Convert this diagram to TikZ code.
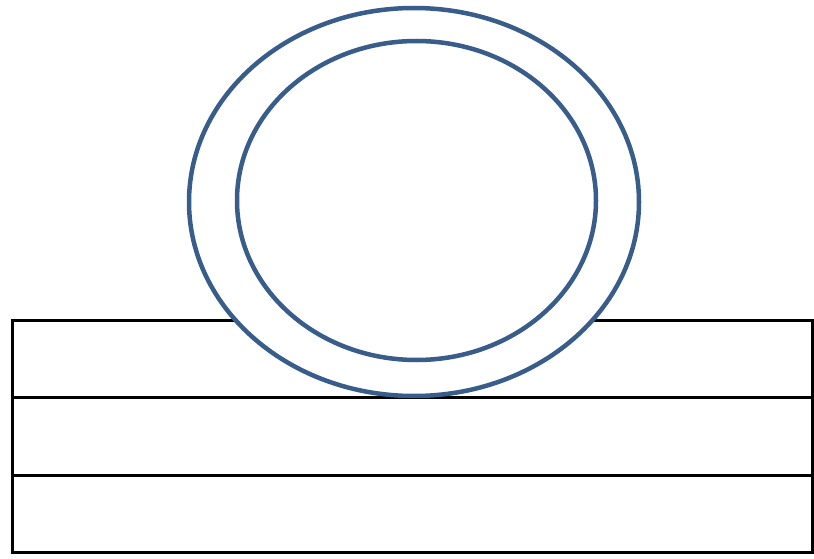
\documentclass[tikz,border=0pt]{standalone}
\usetikzlibrary{shapes.geometric}
\definecolor{ringblue}{RGB}{56,93,138}
\begin{document}
\begin{tikzpicture}[x=1pt,y=1pt,
  layer/.style={draw=black,line width=3pt,fill=white,inner sep=0pt,minimum width=800pt,minimum height=77.5pt},
  ring/.style={ellipse,draw=ringblue,line width=4.5pt,inner sep=0pt}]
\useasboundingbox (0,0) rectangle (814,558);
% three layers
\node[layer] (bottom) at (412,44) {};
\node[layer] (middle) at (412,121.5) {};
\node[layer] (top) at (412,199) {};

% rings
\node[ring,fill=white,minimum width=450pt,minimum height=388pt] (outer) at (414,356) {};
\node[ring,minimum width=359pt,minimum height=319pt] (inner) at (416.5,357.5) {};
\end{tikzpicture}
\end{document}
